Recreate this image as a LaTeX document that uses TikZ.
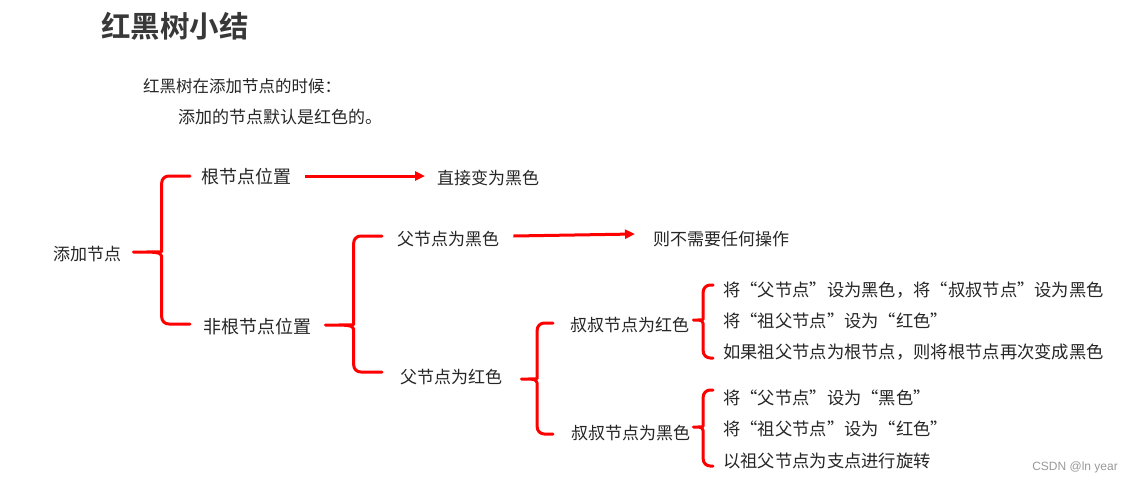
\documentclass[tikz,border=0pt]{standalone}
\usepackage{fontspec}
\setmainfont{Noto Sans CJK SC}[BoldFont={Noto Sans CJK SC Bold}]
\newfontfamily\markfont{Liberation Sans}
\usetikzlibrary{arrows.meta,calc}

% red curly bracket: #1 tip, #2 upper end, #3 lower end (only its y is used)
\newcommand{\redbrace}[3]{%
  \draw[bracket] let \p1=(#1), \p2=(#2), \p3=(#3), \n1={0.5*\x1+0.5*\x2} in
    (\x2,\y2) [rounded corners=7pt] -- (\n1,\y2) -- (\n1,\y1+8pt) [sharp corners]
    .. controls (\n1,\y1) .. (\x1,\y1) .. controls (\n1,\y1) .. (\n1,\y1-8pt)
    [rounded corners=7pt] -- (\n1,\y3) -- (\x2,\y3);}

\begin{document}
\begin{tikzpicture}[x=1pt,y=-1pt,
    txt/.style={anchor=west,inner sep=0pt,text=black!85,font=\fontsize{17}{20}\selectfont},
    step text/.style={txt,font=\fontsize{17.3}{20}\selectfont},
    bracket/.style={red,line width=3pt,line cap=round,line join=round},
    arrow/.style={red,line width=3pt,-{Triangle[length=10pt,width=9pt]}}]
  \useasboundingbox (0,0) rectangle (1133,483);

  % heading and the two lines of text under it
  \node[txt,text=black!78,font=\fontsize{29.5}{34}\selectfont\bfseries] (title) at (101,26) {红黑树小结};
  \node[txt,font=\fontsize{16.5}{20}\selectfont] (intro) at (143,86) {红黑树在添加节点的时候：};
  \node[txt] (default) at (178,117) {添加的节点默认是红色的。};

  % tree of cases
  \node[txt] (add) at (53,254) {添加节点};
  \node[txt,font=\fontsize{18}{20}\selectfont] (root) at (201,177) {根节点位置};
  \node[txt] (direct) at (437,178) {直接变为黑色};
  \node[txt,font=\fontsize{18}{20}\selectfont] (nonroot) at (203,327) {非根节点位置};
  \node[txt] (pblack) at (397,239) {父节点为黑色};
  \node[txt] (noop) at (653,239) {则不需要任何操作};
  \node[txt] (pred) at (400,377) {父节点为红色};
  \node[txt] (ured) at (570,325) {叔叔节点为红色};
  \node[txt] (ublack) at (571,433) {叔叔节点为黑色};

  % what to do in each case
  \node[step text] (redA) at (723,290) {将“父节点”设为黑色，将“叔叔节点”设为黑色};
  \node[step text] (redB) at (723,321) {将“祖父节点”设为“红色”};
  \node[step text] (redC) at (723,352) {如果祖父节点为根节点，则将根节点再次变成黑色};
  \node[step text] (blackA) at (723,398) {将“父节点”设为“黑色”};
  \node[step text] (blackB) at (723,429) {将“祖父节点”设为“红色”};
  \node[step text] (blackC) at (723,461) {以祖父节点为支点进行旋转};

  \node[anchor=east,inner sep=0pt,text=black!40,font=\markfont\fontsize{12}{14}\selectfont] (mark) at (1118,467) {CSDN @ln year};

  % brackets
  \redbrace{[xshift=12pt,yshift=2pt]add.east}{[xshift=-11pt,yshift=1pt]root.west}{[yshift=3pt]nonroot.west}
  \redbrace{[xshift=14pt,yshift=2pt]nonroot.east}{[xshift=-15pt,yshift=3pt]pblack.west}{[yshift=5pt]pred.west}
  \redbrace{[xshift=19pt,yshift=-2pt]pred.east}{[xshift=-17pt,yshift=2pt]ured.west}{[yshift=-1pt]ublack.west}
  \redbrace{[xshift=4pt,yshift=5pt]ured.east}{[xshift=-10pt,yshift=5pt]redA.west}{[yshift=-6pt]redC.west}
  \redbrace{[xshift=3pt,yshift=6pt]ublack.east}{[xshift=-10pt,yshift=8pt]blackA.west}{[yshift=-5pt]blackC.west}

  % arrows
  \draw[arrow] ([xshift=14pt,yshift=1pt]root.east) -- ([xshift=-12pt,yshift=2pt]direct.west);
  \draw[arrow] ([xshift=14pt,yshift=3pt]pblack.east) -- ([xshift=-18pt,yshift=5pt]noop.west);
\end{tikzpicture}
\end{document}
